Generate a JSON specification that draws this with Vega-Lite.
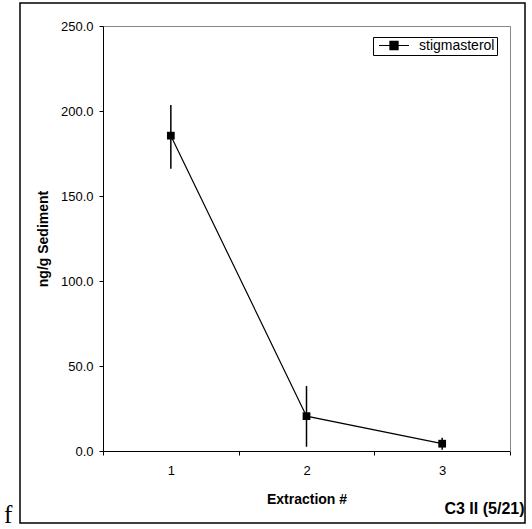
{
  "$schema": "https://vega.github.io/schema/vega-lite/v6.json",
  "width": 505,
  "height": 520,
  "autosize": {"type": "none"},
  "padding": {"left": 20, "top": 3, "right": 7, "bottom": 6},
  "background": "white",
  "title": {
    "text": "f",
    "orient": "bottom",
    "anchor": "start",
    "frame": "group",
    "baseline": "alphabetic",
    "offset": 0,
    "dx": -16,
    "font": "Liberation Serif",
    "fontSize": 25,
    "fontWeight": "normal",
    "color": "black"
  },
  "config": {
    "view": {"stroke": "black", "strokeWidth": 1.5},
    "font": "Liberation Sans"
  },
  "data": {
    "values": [
      {"extraction": "1", "mean": 185.5, "lo": 166.0, "hi": 203.5, "series": "stigmasterol"},
      {"extraction": "2", "mean": 20.5, "lo": 2.5, "hi": 38.2, "series": "stigmasterol"},
      {"extraction": "3", "mean": 4.3, "lo": 0.8, "hi": 7.8, "series": "stigmasterol"}
    ]
  },
  "layer": [
    {
      "mark": {"type": "rule", "color": "black", "strokeWidth": 1.5},
      "encoding": {
        "x": {
          "field": "extraction", "type": "ordinal", "bandPosition": 0.5,
          "scale": {"type": "band", "range": [83, 490], "paddingInner": 0, "paddingOuter": 0},
          "axis": {
            "orient": "bottom", "offset": -72, "title": "Extraction #",
            "titleFontSize": 14, "titleFontWeight": "bold", "titleColor": "black",
            "titleBaseline": "alphabetic", "titleY": 52,
            "labelFontSize": 13, "labelAngle": 0, "labelPadding": 9, "labelColor": "black",
            "tickBand": "extent", "tickSize": 4, "tickColor": "black",
            "domainColor": "black", "grid": false
          }
        },
        "y": {
          "field": "lo", "type": "quantitative",
          "scale": {"domain": [0, 250], "range": [448, 23], "nice": false, "zero": true},
          "axis": {
            "orient": "left", "offset": -83, "title": "ng/g Sediment",
            "titleFontSize": 14, "titleFontWeight": "bold", "titleColor": "black",
            "titleBaseline": "alphabetic", "titleX": -56,
            "format": ".1f", "values": [0, 50, 100, 150, 200, 250],
            "labelFontSize": 13, "labelPadding": 6, "labelColor": "black",
            "tickSize": 4, "tickColor": "black", "domainColor": "black", "grid": false
          }
        },
        "y2": {"field": "hi"}
      }
    },
    {
      "mark": {"type": "line", "strokeWidth": 1.2},
      "encoding": {
        "x": {
          "field": "extraction", "type": "ordinal", "bandPosition": 0.5,
          "scale": {"type": "band", "range": [83, 490], "paddingInner": 0, "paddingOuter": 0},
          "axis": {
            "orient": "top", "offset": -23, "title": null, "labels": false, "ticks": false,
            "domainColor": "#888888", "grid": false
          }
        },
        "y": {
          "field": "mean", "type": "quantitative",
          "scale": {"domain": [0, 250], "range": [448, 23], "nice": false, "zero": true},
          "axis": {
            "orient": "right", "offset": -15, "labels": false, "ticks": false,
            "domainColor": "#888888", "grid": false,
            "title": "C3 II (5/21)", "titleAngle": 0, "titleAlign": "right",
            "titleBaseline": "alphabetic", "titleX": 14, "titleY": 510,
            "titleFontSize": 16, "titleFontWeight": "bold", "titleColor": "black"
          }
        },
        "color": {
          "field": "series", "type": "nominal",
          "scale": {"range": ["black"]},
          "legend": {
            "orient": "none", "legendX": 353, "legendY": 34, "title": null,
            "strokeColor": "black", "fillColor": "white", "padding": 2,
            "symbolType": "M-1,0H1M-0.27,-0.27H0.27V0.27H-0.27Z",
            "symbolSize": 900, "symbolStrokeColor": "black", "symbolFillColor": "black",
            "symbolStrokeWidth": 1.2, "symbolOffset": 3,
            "labelFontSize": 14, "labelOffset": 9, "labelColor": "black",
            "clipHeight": 13
          }
        }
      }
    },
    {
      "mark": {"type": "point", "shape": "square", "filled": true, "size": 60, "opacity": 1},
      "encoding": {
        "x": {
          "field": "extraction", "type": "ordinal", "bandPosition": 0.5,
          "scale": {"type": "band", "range": [83, 490], "paddingInner": 0, "paddingOuter": 0},
          "axis": null
        },
        "y": {
          "field": "mean", "type": "quantitative",
          "scale": {"domain": [0, 250], "range": [448, 23], "nice": false, "zero": true},
          "axis": null
        },
        "color": {"field": "series", "type": "nominal", "scale": {"range": ["black"]}}
      }
    }
  ],
  "resolve": {"axis": {"x": "independent", "y": "independent"}}
}
